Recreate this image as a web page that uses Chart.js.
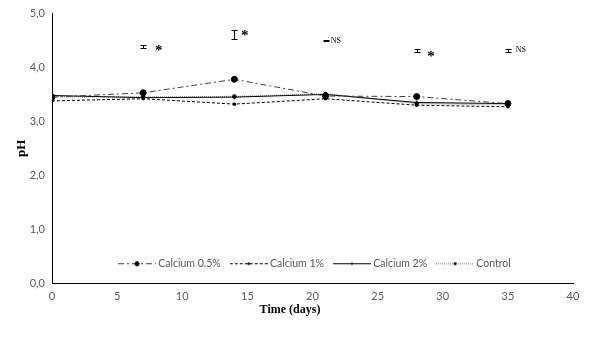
<!DOCTYPE html>
<html>
<head>
<meta charset="utf-8">
<script src="https://cdn.jsdelivr.net/npm/chart.js@4.4.0/dist/chart.umd.min.js"></script>
<style>
  html, body { margin: 0; padding: 0; background: #fff; }
  #wrap { width: 590px; height: 346px; }
</style>
</head>
<body>
<div id="wrap"><canvas id="myChart" width="590" height="346"></canvas></div>
<script>
var days = [0, 7, 14, 21, 28, 35];
var calcium05 = [3.45, 3.53, 3.78, 3.47, 3.46, 3.33];
var calcium1 = [3.38, 3.42, 3.32, 3.42, 3.30, 3.27];
var calcium2 = [3.48, 3.44, 3.45, 3.50, 3.35, 3.33];
var control = [3.46, 3.45, 3.46, 3.51, 3.33, 3.31];

// error bars and significance marks above the lines
var sigDays = [7, 14, 21, 28, 35];
var sigMeans = [4.39, 4.61, 4.50, 4.32, 4.32];
var sigErr = [0.02, 0.08, 0.015, 0.03, 0.025];
var sigLabels = ['*', '*', 'NS', '*', 'NS'];
var sigLabelDays = [8.2, 14.8, 21.8, 29.1, 36.0];
var sigLabelValues = [4.36, 4.64, 4.50, 4.25, 4.32];

var xTicks = [0, 5, 10, 15, 20, 25, 30, 35, 40];
var yTicks = [0, 1, 2, 3, 4, 5];

function points(values) {
    var out = [];
    for (var i = 0; i < days.length; i++) {
        out.push({x: days[i], y: values[i]});
    }
    return out;
}

function comma(v) {
    return v.toFixed(1).replace('.', ',');
}

// little line + marker picture used as the legend symbol
function legendIcon(ds) {
    var c = document.createElement('canvas');
    c.width = 38;
    c.height = 10;
    var g = c.getContext('2d');
    g.strokeStyle = ds.borderColor;
    g.lineWidth = ds.borderWidth;
    g.setLineDash(ds.borderDash || []);
    g.beginPath();
    g.moveTo(0, 5.5);
    g.lineTo(38, 5.5);
    g.stroke();
    g.setLineDash([]);
    g.fillStyle = ds.pointBackgroundColor;
    g.strokeStyle = ds.pointBorderColor;
    g.lineWidth = 1;
    Chart.helpers.drawPoint(g, {pointStyle: ds.pointStyle, radius: ds.pointRadius * 0.7, rotation: 0, borderWidth: 1}, 19, 5.5);
    return c;
}

var sigPlugin = {
    id: 'sigMarks',
    afterLayout: function(chart) {
        var lg = chart.legend;
        var h = lg.height;
        lg.left = 109;
        lg.right = 109 + 590;
        lg.top = 246;
        lg.bottom = 246 + h;
    },
    afterDatasetsDraw: function(chart) {
        var ctx = chart.ctx;
        var xs = chart.scales.x;
        var ys = chart.scales.y;
        ctx.save();
        ctx.strokeStyle = '#000';
        ctx.fillStyle = '#000';
        ctx.lineWidth = 1;
        for (var i = 0; i < sigDays.length; i++) {
            var px = Math.round(xs.getPixelForValue(sigDays[i])) + 0.5;
            var top = Math.round(ys.getPixelForValue(sigMeans[i] + sigErr[i])) + 0.5;
            var bot = Math.round(ys.getPixelForValue(sigMeans[i] - sigErr[i])) + 0.5;
            ctx.beginPath();
            ctx.moveTo(px, top); ctx.lineTo(px, bot);
            ctx.moveTo(px - 3, top); ctx.lineTo(px + 3, top);
            ctx.moveTo(px - 3, bot); ctx.lineTo(px + 3, bot);
            ctx.stroke();
            var lx = xs.getPixelForValue(sigLabelDays[i]);
            var ly = ys.getPixelForValue(sigLabelValues[i]);
            ctx.textAlign = 'center';
            ctx.textBaseline = 'middle';
            if (sigLabels[i] == '*') {
                ctx.font = 'bold 15px "Liberation Serif"';
                ctx.fillText('*', lx, ly + 3);
            } else {
                ctx.font = '8px "Liberation Serif"';
                ctx.fillText(sigLabels[i], lx, ly);
            }
        }
        // x axis title, centred on the page rather than the plot
        ctx.font = 'bold 12px "Liberation Serif"';
        ctx.textAlign = 'center';
        ctx.textBaseline = 'middle';
        ctx.fillText('Time (days)', 290, 310);
        ctx.restore();
    }
};

var datasets = [
    {
        label: 'Calcium 0.5%',
        data: points(calcium05),
        borderColor: '#404040',
        borderWidth: 1,
        borderDash: [6, 3, 2, 3],
        pointStyle: 'circle',
        pointRadius: 3,
        pointBackgroundColor: '#000',
        pointBorderColor: '#000'
    },
    {
        label: 'Calcium 1%',
        data: points(calcium1),
        borderColor: '#000',
        borderWidth: 1,
        borderDash: [3, 2],
        pointStyle: 'rect',
        pointRadius: 1.5,
        pointBackgroundColor: '#000',
        pointBorderColor: '#000'
    },
    {
        label: 'Calcium 2%',
        data: points(calcium2),
        borderColor: '#000',
        borderWidth: 1,
        borderDash: [],
        pointStyle: 'cross',
        pointRadius: 2,
        pointBackgroundColor: '#000',
        pointBorderColor: '#000'
    },
    {
        label: 'Control',
        data: points(control),
        borderColor: '#9a9a9a',
        borderWidth: 1.5,
        borderDash: [1, 1],
        pointStyle: 'circle',
        pointRadius: 1.5,
        pointBackgroundColor: '#000',
        pointBorderColor: '#000'
    }
];

var myChart = new Chart(document.getElementById('myChart'), {
    type: 'line',
    data: {datasets: datasets},
    plugins: [sigPlugin],
    options: {
        responsive: false,
        animation: false,
        layout: {padding: {left: 0, right: 17, top: 12, bottom: 0}},
        plugins: {
            tooltip: {enabled: false},
            legend: {
                position: 'bottom',
                align: 'start',
                labels: {
                    usePointStyle: true,
                    pointStyleWidth: 32,
                    padding: 12,
                    color: '#595959',
                    font: {family: 'Lato', size: 10.5},
                    generateLabels: function(chart) {
                        return chart.data.datasets.map(function(ds, i) {
                            return {
                                text: ds.label,
                                pointStyle: legendIcon(ds),
                                datasetIndex: i,
                                fontColor: '#595959',
                                lineWidth: 0,
                                hidden: false
                            };
                        });
                    }
                }
            }
        },
        scales: {
            x: {
                type: 'linear',
                min: 0,
                max: 40,
                afterBuildTicks: function(s) {
                    s.ticks = xTicks.map(function(v) { return {value: v}; });
                },
                afterFit: function(s) {
                    var lh = (s.chart.legend && s.chart.legend.height) || 40;
                    s.height = 63 - lh;
                },
                grid: {display: false, drawTicks: false},
                border: {display: true, color: '#000', width: 1},
                ticks: {
                    padding: 7,
                    color: '#595959',
                    font: {family: 'Lato', size: 11},
                    maxRotation: 0,
                    callback: function(v) { return v; }
                }
            },
            y: {
                min: 0,
                max: 5,
                afterBuildTicks: function(s) {
                    s.ticks = yTicks.map(function(v) { return {value: v}; });
                },
                afterFit: function(s) {
                    s.width = 52;
                },
                grid: {display: false, drawTicks: false},
                border: {display: true, color: '#000', width: 1},
                ticks: {
                    padding: 7,
                    color: '#595959',
                    font: {family: 'Lato', size: 11},
                    callback: function(v) { return comma(v); }
                },
                title: {
                    display: true,
                    text: 'pH',
                    color: '#000',
                    font: {family: 'Liberation Serif', size: 13, weight: 'bold'},
                    padding: {top: 14, bottom: 0}
                }
            }
        }
    }
});
</script>
</body>
</html>
